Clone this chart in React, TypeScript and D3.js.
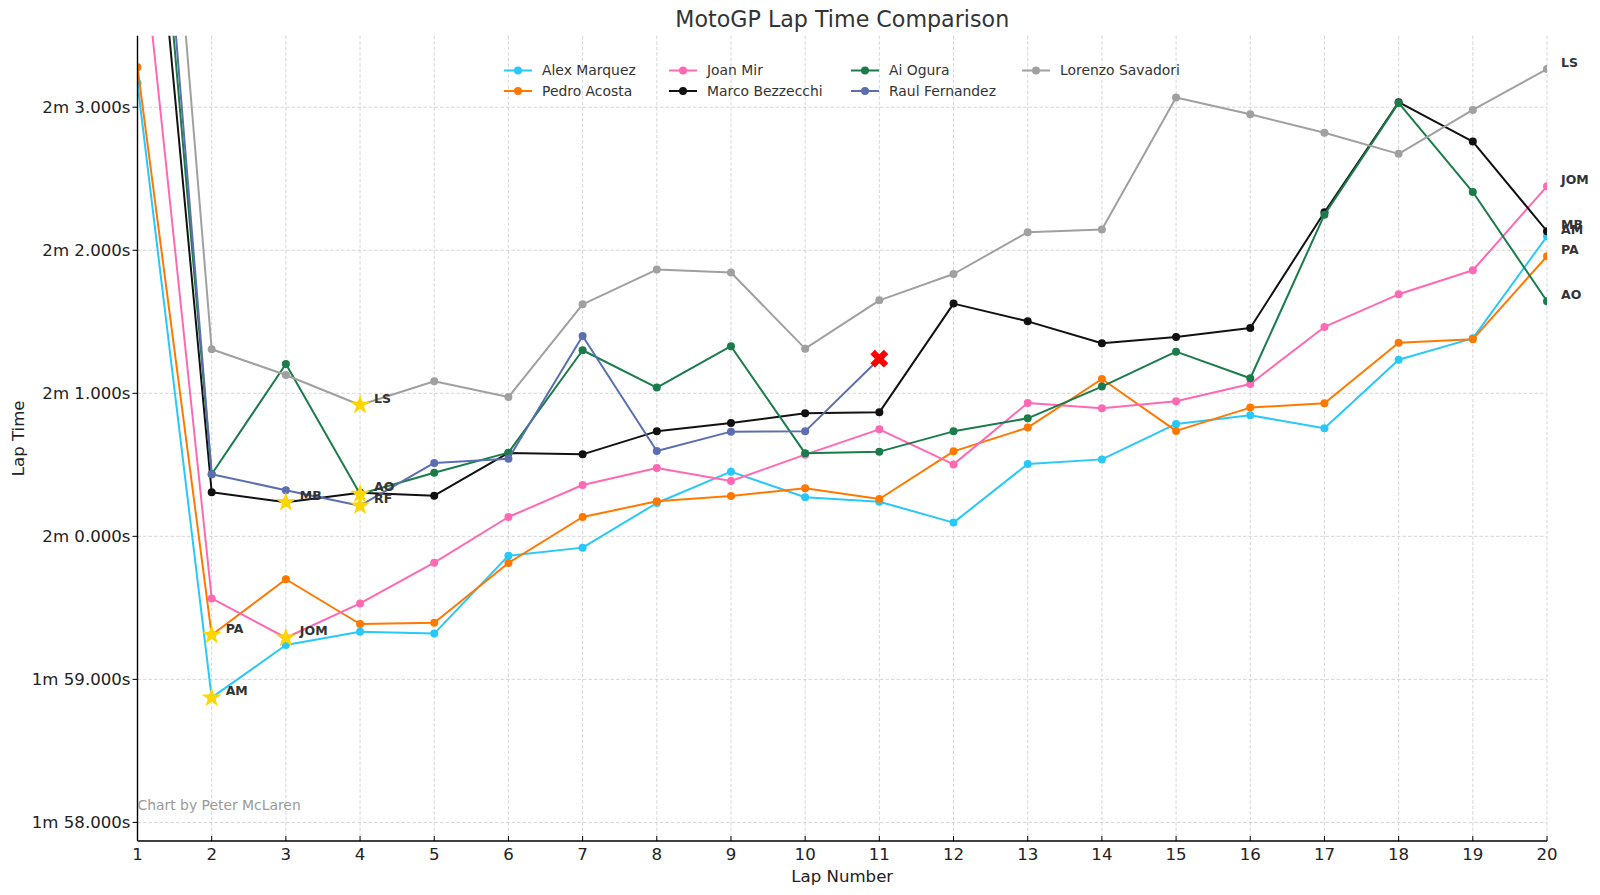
import React, { useRef, useEffect } from 'react';
import * as d3 from 'd3';

// lap numbers and lap times (seconds)
const laps = [1, 2, 3, 4, 5, 6, 7, 8, 9, 10, 11, 12, 13, 14, 15, 16, 17, 18, 19, 20];
const riderNames = ['Alex Marquez', 'Pedro Acosta', 'Joan Mir', 'Marco Bezzecchi', 'Ai Ogura', 'Raul Fernandez', 'Lorenzo Savadori'];
const riderCodes = ['AM', 'PA', 'JOM', 'MB', 'AO', 'RF', 'LS'];
const riderColors = ['#29c8fa', '#ff7800', '#ff69b4', '#111111', '#1a7c4a', '#5b6fb0', '#a0a0a0'];

const alexMarquez = [123.168, 118.872, 119.24, 119.333, 119.32, 119.865, 119.921, 120.233, 120.452, 120.273, 120.242, 120.096, 120.506, 120.538, 120.786, 120.846, 120.755, 121.235, 121.384, 122.098];
const pedroAcosta = [123.28, 119.31, 119.7, 119.387, 119.396, 119.814, 120.135, 120.245, 120.282, 120.336, 120.261, 120.594, 120.76, 121.1, 120.737, 120.9, 120.93, 121.354, 121.377, 121.958];
const joanMir = [124.5, 119.566, 119.291, 119.531, 119.816, 120.135, 120.359, 120.478, 120.387, 120.571, 120.748, 120.503, 120.932, 120.895, 120.944, 121.065, 121.464, 121.692, 121.86, 122.447];
const marcoBezzecchi = [125.9, 120.308, 120.238, 120.305, 120.284, 120.583, 120.573, 120.734, 120.793, 120.86, 120.867, 121.627, 121.503, 121.35, 121.394, 121.457, 122.266, 123.035, 122.76, 122.133];
const aiOgura = [126.4, 120.434, 121.205, 120.296, 120.445, 120.585, 121.301, 121.04, 121.329, 120.58, 120.592, 120.734, 120.825, 121.047, 121.291, 121.105, 122.249, 123.03, 122.407, 121.644];
const raulFernandez = [126.8, 120.434, 120.322, 120.214, 120.513, 120.543, 121.401, 120.597, 120.732, 120.734, 121.242];
const lorenzoSavadori = [127.6, 121.308, 121.128, 120.918, 121.084, 120.974, 121.622, 121.865, 121.844, 121.312, 121.65, 121.834, 122.126, 122.145, 123.068, 122.951, 122.821, 122.674, 122.981, 123.267];

const riderTimes = [alexMarquez, pedroAcosta, joanMir, marcoBezzecchi, aiOgura, raulFernandez, lorenzoSavadori];
const yTicks = [118, 119, 120, 121, 122, 123];
const yDomain = [117.87, 123.5];

const formatLapTime = (v: number) => {
  const m = Math.floor(v / 60);
  const s = v - m * 60;
  return `${m}m ${s.toFixed(3)}s`;
};

const W = 1600;
const H = 895;
const margin = { top: 35.7, right: 53, bottom: 54, left: 137.5 };
const FONT = '"DejaVu Sans", sans-serif';

const LapChart: React.FC = () => {
  const svgRef = useRef<SVGSVGElement | null>(null);

  useEffect(() => {
    if (!svgRef.current) return;
    const svg = d3.select(svgRef.current);
    svg.selectAll('*').remove();

    const x0 = margin.left, x1 = W - margin.right;
    const y0 = margin.top, y1 = H - margin.bottom;

    const x = d3.scaleLinear().domain([laps[0], laps[laps.length - 1]]).range([x0, x1]);
    const y = d3.scaleLinear().domain(yDomain).range([y1, y0]);

    svg.append('rect').attr('width', W).attr('height', H).attr('fill', '#ffffff');

    svg.append('defs').append('clipPath').attr('id', 'plot-clip')
      .append('rect').attr('x', x0).attr('y', y0).attr('width', x1 - x0).attr('height', y1 - y0);

    // grid
    const grid = svg.append('g').attr('stroke', '#cccccc').attr('stroke-width', 0.8).attr('stroke-dasharray', '3.5,2');
    laps.forEach(l => {
      grid.append('line').attr('x1', x(l)).attr('x2', x(l)).attr('y1', y0).attr('y2', y1);
    });
    yTicks.forEach(t => {
      grid.append('line').attr('x1', x0).attr('x2', x1).attr('y1', y(t)).attr('y2', y(t));
    });

    // lines + markers
    const plot = svg.append('g').attr('clip-path', 'url(#plot-clip)');
    const line = d3.line<number>().x((_, i) => x(laps[i])).y(d => y(d));
    riderTimes.forEach((times, r) => {
      plot.append('path')
        .attr('d', line(times)!)
        .attr('fill', 'none')
        .attr('stroke', riderColors[r])
        .attr('stroke-width', 2)
        .attr('stroke-linejoin', 'round');
      plot.selectAll(null)
        .data(times)
        .join('circle')
        .attr('cx', (_, i) => x(laps[i]))
        .attr('cy', d => y(d))
        .attr('r', 4)
        .attr('fill', riderColors[r]);
    });

    // DNF cross for a rider who stopped early
    riderTimes.forEach(times => {
      if (times.length < laps.length) {
        const i = times.length - 1;
        svg.append('path')
          .attr('d', d3.symbol(d3.symbolCross, 200)()!)
          .attr('transform', `translate(${x(laps[i])},${y(times[i])}) rotate(45)`)
          .attr('fill', '#ff0000');
      }
    });

    // fastest lap stars
    const labelStyle = (sel: d3.Selection<SVGTextElement, unknown, null, undefined>) =>
      sel.attr('font-family', FONT).attr('font-size', 12.5).attr('font-weight', 'bold')
        .attr('fill', '#333333').attr('dominant-baseline', 'central');

    riderTimes.forEach((times, r) => {
      const i = d3.minIndex(times);
      const cx = x(laps[i]), cy = y(times[i]);
      svg.append('path')
        .attr('d', d3.symbol(d3.symbolStar, 125)()!)
        .attr('transform', `translate(${cx},${cy})`)
        .attr('fill', '#ffd700');
      svg.append('text').attr('x', cx + 14).attr('y', cy - 7).call(labelStyle).text(riderCodes[r]);
    });

    // final lap labels
    riderTimes.forEach((times, r) => {
      if (times.length < laps.length) return;
      const i = times.length - 1;
      svg.append('text').attr('x', x(laps[i]) + 14).attr('y', y(times[i]) - 7).call(labelStyle).text(riderCodes[r]);
    });

    // axes
    svg.append('line').attr('x1', x0).attr('x2', x0).attr('y1', y0).attr('y2', y1)
      .attr('stroke', '#000').attr('stroke-width', 1.4);
    svg.append('line').attr('x1', x0).attr('x2', x1).attr('y1', y1).attr('y2', y1)
      .attr('stroke', '#000').attr('stroke-width', 1.4);

    yTicks.forEach(t => {
      svg.append('line').attr('x1', x0 - 5).attr('x2', x0).attr('y1', y(t)).attr('y2', y(t))
        .attr('stroke', '#000').attr('stroke-width', 1);
      svg.append('text').attr('x', x0 - 7).attr('y', y(t)).attr('dy', '0.35em')
        .attr('text-anchor', 'end').attr('font-family', FONT).attr('font-size', 16.6)
        .attr('fill', '#222').text(formatLapTime(t));
    });
    laps.forEach(l => {
      svg.append('line').attr('x1', x(l)).attr('x2', x(l)).attr('y1', y1 - 5).attr('y2', y1)
        .attr('stroke', '#000').attr('stroke-width', 1);
      svg.append('text').attr('x', x(l)).attr('y', y1 + 18.5)
        .attr('text-anchor', 'middle').attr('font-family', FONT).attr('font-size', 16.6)
        .attr('fill', '#222').text(l);
    });

    // titles
    svg.append('text').attr('x', (x0 + x1) / 2).attr('y', 26.7).attr('text-anchor', 'middle')
      .attr('font-family', FONT).attr('font-size', 22.2).attr('fill', '#333').text('MotoGP Lap Time Comparison');
    svg.append('text').attr('x', (x0 + x1) / 2).attr('y', 881.5).attr('text-anchor', 'middle')
      .attr('font-family', FONT).attr('font-size', 16.6).attr('fill', '#222').text('Lap Number');
    svg.append('text')
      .attr('transform', `translate(18,${(y0 + y1) / 2}) rotate(-90)`)
      .attr('text-anchor', 'middle').attr('dominant-baseline', 'central')
      .attr('font-family', FONT).attr('font-size', 16.6).attr('fill', '#222').text('Lap Time');

    svg.append('text').attr('x', x0).attr('y', 810)
      .attr('font-family', FONT).attr('font-size', 13.9).attr('fill', '#999999').text('Chart by Peter McLaren');

    // legend (4 columns, filled column-wise)
    const legendCols = [504, 669, 851, 1022];
    const legendRows = [70.5, 91];
    riderNames.forEach((name, r) => {
      const lx = legendCols[Math.floor(r / 2)];
      const ly = legendRows[r % 2];
      const g = svg.append('g');
      g.append('line').attr('x1', lx).attr('x2', lx + 28).attr('y1', ly).attr('y2', ly)
        .attr('stroke', riderColors[r]).attr('stroke-width', 2);
      g.append('circle').attr('cx', lx + 14).attr('cy', ly).attr('r', 4).attr('fill', riderColors[r]);
      g.append('text').attr('x', lx + 38).attr('y', ly).attr('dy', '0.35em')
        .attr('font-family', FONT).attr('font-size', 13.9).attr('fill', '#333').text(name);
    });

    return () => {
      d3.select(svgRef.current).selectAll('*').remove();
    };
  }, []);

  return (
    <svg ref={svgRef} width={W} height={H}
      style={{ position: 'absolute', left: 0, top: 0, display: 'block' }} />
  );
};

export default function App() {
  return <LapChart />;
}
